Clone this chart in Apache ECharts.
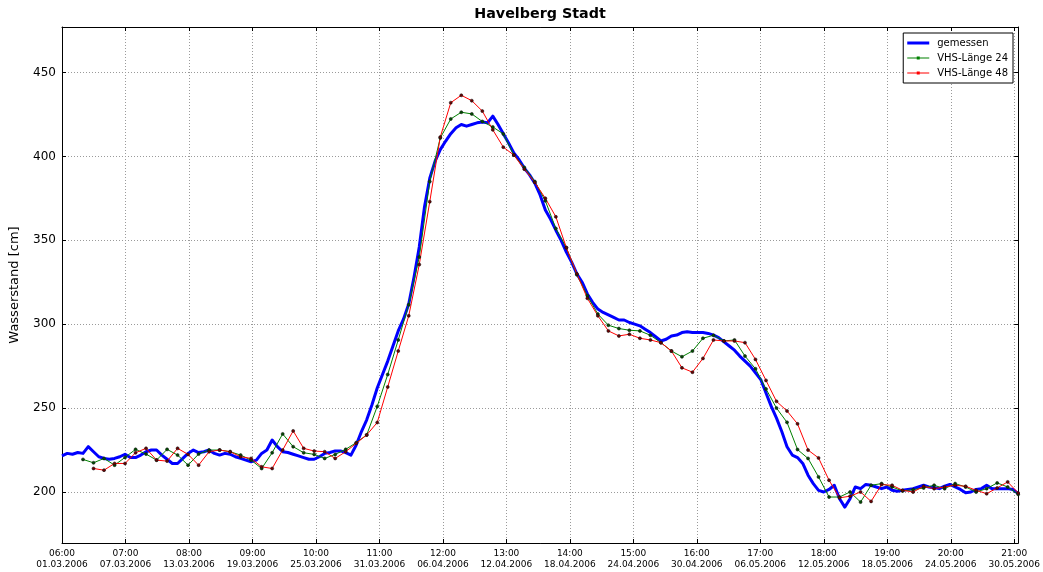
<!DOCTYPE html>
<html>
<head>
<meta charset="utf-8">
<script src="https://cdn.jsdelivr.net/npm/echarts@6/dist/echarts.min.js"></script>
<style>
html,body{margin:0;padding:0;background:#fff;}
#chart{width:1043px;height:572px;}
</style>
</head>
<body>
<div id="chart"></div>
<script>
// Time origin of the x axis: 01.03.2006 06:00; x values are hours since then.
const START_UTC = Date.UTC(2006, 2, 1, 6, 0);
const X_MAX_HOURS = 2184;          // 31.05.2006 06:00
const X_TICK_HOURS = 145;          // 6 days + 1 hour between ticks

// Measured water level, every 12 hours from 01.03.2006 06:00
const MEAS_STEP_H = 12;
const measured = [
  221.5,223,222.5,223.5,223,227,224,221,220,219.5,
  220,221,222.5,220.5,220.5,222,224,225,225,222,
  219.5,217,217,220,223,225,223.5,224,225,223,
  222,223,222.5,221,220,219,218,219,223,225,
  231,227,224,223.5,222.5,221.5,220.5,219.5,219.5,221,
  223,223.5,224.5,224.5,223.5,222,228,236,243,252,
  262,270,278,287,296,303,312,328,346,370,
  387,397,404,409,413.5,417,419,418,419,420,
  420.5,420,424,419,413.5,408,402,398,393,389,
  384,377,368,362.5,356,350,343,337,330,325,
  318,313,309,307,305.5,304,302.5,302.5,301,300,
  299,297,295,292.5,290,291,293,293.5,295,295.5,
  295,295,295,294.5,293.5,292,289.5,287,284.5,281,
  278,275,271,267,259,251,244,236,227,222,
  220.5,217,210,205,201,200,201.5,204,196,191,
  196,203,202,204.5,204,203,202,203,201,200.5,
  201,201.5,202,203,204,203,202.5,202,203.5,204.5,
  203,201.5,199.5,200,201.5,202,204,202,202,202,
  202,201.5,199
];

// Forecasts, one value per day
const FC_STEP_H = 24;
const FC24_FIRST_DAY = 2;
const forecast24 = [
  219.4,217.4,220,216,220.6,225.4,222.6,219,225.4,222,
  216,222.6,225,225,224,222,219,214,223.4,234.6,
  227,223.4,222.4,220,222.4,225.4,229.4,234,251,270,
  290.6,311.6,340,385,411,422.3,426.3,425.3,420.8,417.5,
  413.4,400.8,393.4,385,373.5,357,345.6,329.5,317,306,
  299.4,297.4,296.4,296,293.4,289,284,280.6,284,291.6,
  293.4,290,290.6,281,273.4,261.4,250,241.5,225.3,220,
  209,197,197,200,194,204,205,203,200.6,201.4,
  202.4,204,202,205,203,200,202,205.4,203,198.6
];
const FC48_FIRST_DAY = 3;
const forecast48 = [
  214,213,217,217,223.4,226,219,218.4,226,222.4,
  216,224,225,224,221,220,215,214,225,236.4,
  226,224.4,224,220,224,229,234,241.4,262.6,284,
  305,335.5,373,411.5,432,436.4,433.2,427,415.8,405.5,
  400.8,392.4,384.5,375,364,345.6,330,315.4,305,296,
  293,294,291.6,290.6,289,284,274,271.4,279.6,290.6,
  290,290,289,279,266.5,254,248.3,240.6,225,220.3,
  207,196.5,197.5,200,194.4,204.4,204,201,200,203.4,
  202,203,204,203.4,201,199,202.4,206,199.4
];

const Y_MIN = 169.6, Y_MAX = 477.1;
const seriesNames = ['gemessen', 'VHS-Länge 24', 'VHS-Länge 48'];
const colors = ['#0000ff', '#008000', '#ff0000'];

const measData = measured.map((v, i) => [i * MEAS_STEP_H, v]);
const fc24Data = forecast24.map((v, k) => [(k + FC24_FIRST_DAY) * FC_STEP_H, v]);
const fc48Data = forecast48.map((v, k) => [(k + FC48_FIRST_DAY) * FC_STEP_H, v]);

function pad(n) { return (n < 10 ? '0' : '') + n; }
function xLabel(v) {
  if (Math.abs(v % X_TICK_HOURS) > 1e-6) return '';
  const d = new Date(START_UTC + v * 3600000);
  return pad(d.getUTCHours()) + ':' + pad(d.getUTCMinutes()) + '\n' +
    pad(d.getUTCDate()) + '.' + pad(d.getUTCMonth() + 1) + '.' + d.getUTCFullYear();
}

const FONT = 'DejaVu Sans';
const gridLine = { show: true, lineStyle: { color: '#9a9a9a', type: [1, 2], width: 1 } };
const spine = { show: true, onZero: false, lineStyle: { color: '#000', width: 1 } };
const tick = { show: true, inside: true, length: 4, lineStyle: { color: '#000' } };

const ICON_THICK = 'path://M0,0M22,10M0,3.5H22V6.5H0Z';
const ICON_MARK = 'path://M0,0M22,10M0,4.5H22V5.5H0ZM9.5,3.5H12.5V6.5H9.5Z';

const chart = echarts.init(document.getElementById('chart'), null, { renderer: 'canvas' });
chart.setOption({
  animation: false,
  backgroundColor: '#fff',
  textStyle: { fontFamily: FONT },
  title: {
    text: 'Havelberg Stadt', left: 540, top: 7, textAlign: 'center', padding: 0,
    textStyle: { fontFamily: FONT, fontSize: 14.3, fontWeight: 'bold', color: '#000' }
  },
  grid: { left: 60, right: 24, top: 27, bottom: 29, containLabel: false },
  legend: {
    orient: 'vertical', right: 30, top: 33,
    padding: [4, 5, 4, 4], itemWidth: 22, itemHeight: 10, itemGap: 3,
    backgroundColor: '#fff', borderColor: '#000', borderWidth: 1, borderRadius: 0,
    textStyle: { fontFamily: FONT, fontSize: 10, color: '#000', lineHeight: 12, padding: [0, 0, 0, 3] },
    data: [
      { name: seriesNames[0], icon: ICON_THICK, itemStyle: { color: colors[0], borderWidth: 0 } },
      { name: seriesNames[1], icon: ICON_MARK, itemStyle: { color: colors[1], borderWidth: 0 } },
      { name: seriesNames[2], icon: ICON_MARK, itemStyle: { color: colors[2], borderWidth: 0 } }
    ]
  },
  xAxis: [{
    type: 'value', position: 'bottom', min: 0, max: X_MAX_HOURS, interval: X_TICK_HOURS,
    axisLine: spine, axisTick: tick, splitLine: gridLine,
    axisLabel: { formatter: xLabel, fontFamily: FONT, fontSize: 9, color: '#000', lineHeight: 11, margin: 5, showMaxLabel: false }
  }, {
    type: 'value', position: 'top', min: 0, max: X_MAX_HOURS, interval: X_TICK_HOURS,
    axisLine: spine, axisTick: tick, splitLine: { show: false }, axisLabel: { show: false }
  }],
  yAxis: [{
    type: 'value', position: 'left', min: Y_MIN, max: Y_MAX,
    axisLine: spine, axisTick: tick, splitLine: gridLine,
    axisLabel: {
      formatter: v => (Math.abs(v % 50) < 1e-6 ? String(v) : ''),
      fontFamily: FONT, fontSize: 12, color: '#000', margin: 6
    },
    name: 'Wasserstand [cm]', nameLocation: 'middle', nameGap: 41,
    nameTextStyle: { fontFamily: FONT, fontSize: 13, color: '#000' }
  }, {
    type: 'value', position: 'right', min: Y_MIN, max: Y_MAX,
    axisLine: spine, axisTick: tick, splitLine: { show: false }, axisLabel: { show: false }
  }],
  series: [{
    name: seriesNames[0], type: 'line', data: measData, symbol: 'none',
    lineStyle: { color: colors[0], width: 3, join: 'round' }, itemStyle: { color: colors[0] }
  }, {
    name: seriesNames[1], type: 'line', data: fc24Data, symbol: 'circle', symbolSize: 3,
    lineStyle: { color: colors[1], width: 1 },
    itemStyle: { color: '#005000', borderColor: '#111', borderWidth: 0.6 }
  }, {
    name: seriesNames[2], type: 'line', data: fc48Data, symbol: 'circle', symbolSize: 3,
    lineStyle: { color: colors[2], width: 1 },
    itemStyle: { color: '#700000', borderColor: '#111', borderWidth: 0.6 }
  }]
});
</script>
</body>
</html>
